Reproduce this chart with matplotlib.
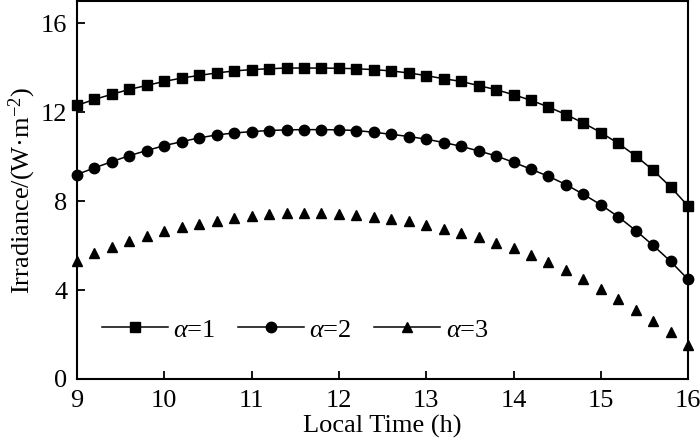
import matplotlib.pyplot as plt
import matplotlib.ticker as ticker
from matplotlib.lines import Line2D

# Heures locales (h), un point toutes les 0,2 h
heures = [
    9.0, 9.2, 9.4, 9.6, 9.8, 10.0, 10.2, 10.4, 10.6, 10.8, 11.0, 11.2,
    11.4, 11.6, 11.8, 12.0, 12.2, 12.4, 12.6, 12.8, 13.0, 13.2, 13.4, 13.6,
    13.8, 14.0, 14.2, 14.4, 14.6, 14.8, 15.0, 15.2, 15.4, 15.6, 15.8, 16.0,
]

# Irradiance (W·m-2) pour chaque valeur de alpha
irradiance_alpha1 = [
    12.31, 12.58, 12.81, 13.03, 13.21, 13.39, 13.54, 13.66, 13.77, 13.86, 13.92, 13.96,
    13.99, 13.99, 13.99, 13.98, 13.96, 13.92, 13.86, 13.77, 13.65, 13.51, 13.39, 13.20,
    13.02, 12.79, 12.54, 12.24, 11.90, 11.52, 11.09, 10.60, 10.04, 9.39, 8.64, 7.78,
]
irradiance_alpha2 = [
    9.20, 9.50, 9.78, 10.05, 10.28, 10.50, 10.68, 10.85, 10.98, 11.07, 11.13, 11.18,
    11.21, 11.22, 11.22, 11.21, 11.18, 11.10, 11.01, 10.91, 10.79, 10.64, 10.47, 10.26,
    10.04, 9.75, 9.44, 9.12, 8.75, 8.31, 7.84, 7.30, 6.68, 6.01, 5.29, 4.48,
]
irradiance_alpha3 = [
    5.30, 5.66, 5.95, 6.21, 6.45, 6.65, 6.82, 6.98, 7.13, 7.25, 7.34, 7.42,
    7.45, 7.45, 7.45, 7.42, 7.37, 7.30, 7.21, 7.10, 6.95, 6.77, 6.58, 6.37,
    6.14, 5.90, 5.60, 5.27, 4.90, 4.50, 4.05, 3.60, 3.10, 2.60, 2.10, 1.55,
]

etiquettes = [r"$\alpha$=1", r"$\alpha$=2", r"$\alpha$=3"]


def definir_graphique():
    """Crée la figure et les axes avec le style de l'article"""
    plt.rcParams["font.family"] = ["Liberation Serif", "DejaVu Serif"]
    plt.rcParams["mathtext.fontset"] = "custom"
    plt.rcParams["mathtext.rm"] = "Liberation Serif"
    plt.rcParams["mathtext.it"] = "Liberation Serif:italic"

    graphique = plt.figure(figsize=(7, 4.44), dpi=100)
    axes = graphique.add_axes([0.11, 0.1464, 0.873, 0.851])

    axes.set_xlim(9, 16)
    axes.set_ylim(0, 17)
    axes.xaxis.set_major_locator(ticker.MultipleLocator(1))
    axes.yaxis.set_major_locator(ticker.MultipleLocator(4))

    for cote in axes.spines.values():
        cote.set_linewidth(1.5)

    axes.tick_params(
        direction="in", length=6, width=1.3, labelsize=19, top=False, right=False
    )
    axes.tick_params(axis="x", pad=8)
    axes.tick_params(axis="y", pad=7)

    axes.set_xlabel("Local Time (h)", fontsize=19, labelpad=2)
    axes.set_ylabel(r"Irradiance/(W·m$^{-2}$)", fontsize=19)
    axes.yaxis.set_label_coords(-0.064, 0.5)

    return graphique, axes


def tracer(axes):
    """Ajoute les trois séries et la légende"""
    axes.plot(
        heures, irradiance_alpha1, color="k", linewidth=1.1,
        marker="s", markersize=7, clip_on=False, zorder=3,
    )
    axes.plot(
        heures, irradiance_alpha2, color="k", linewidth=1.1,
        marker="o", markersize=7.5, clip_on=False, zorder=3,
    )
    # La série alpha=3 n'a que des marqueurs sur le graphique
    axes.plot(
        heures, irradiance_alpha3, color="k", linestyle="None",
        marker="^", markersize=7.5, clip_on=False, zorder=3,
    )

    poignees = [
        Line2D([], [], color="k", linewidth=1.1, marker=m, markersize=t)
        for m, t in zip(["s", "o", "^"], [7, 7.5, 7.5])
    ]
    axes.legend(
        poignees, etiquettes, ncol=3, frameon=False, fontsize=19,
        loc="center left", bbox_to_anchor=(0.041, 0.13), borderpad=0,
        borderaxespad=0, handlelength=2.5, handletextpad=0.2,
        columnspacing=0.85,
    )


def main():
    graphique, axes = definir_graphique()
    tracer(axes)
    graphique.savefig("out.png", dpi=100)


if __name__ == "__main__":
    main()
